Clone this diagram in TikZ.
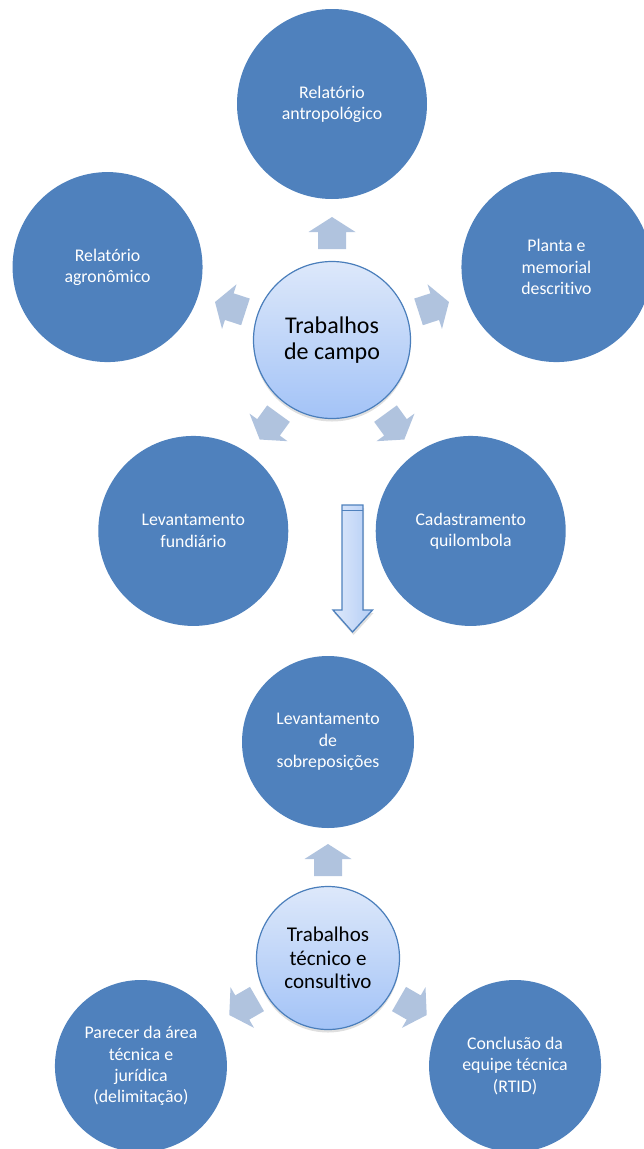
\documentclass[tikz,border=0pt]{standalone}
\usepackage{fontspec}
\setmainfont{Carlito}[Ligatures={NoCommon,NoRequired,NoContextual}]
\usetikzlibrary{calc,shadows}
\definecolor{satblue}{RGB}{79,129,189}
\definecolor{arrowfill}{RGB}{176,195,222}
\definecolor{hubborder}{RGB}{74,126,187}
\definecolor{hubtop}{RGB}{221,232,250}
\definecolor{hubbot}{RGB}{163,195,247}
\definecolor{bigl}{RGB}{222,233,251}
\definecolor{bigr}{RGB}{180,205,245}
\tikzset{
  sat/.style={circle, fill=satblue, draw=none, text=white, align=center,
    font=\fontsize{17.8}{21.3}\selectfont, inner sep=0pt},
  hub/.style={circle, draw=hubborder, line width=1.2pt, top color=hubtop, bottom color=hubbot,
    align=center, text=black, inner sep=0pt,
    drop shadow={opacity=0.25, shadow xshift=0pt, shadow yshift=-3pt}},
  blockarrow/.style={fill=arrowfill, draw=none},
}
\newcommand{\blkarrow}[2]{% position, direction angle
  \fill[blockarrow, shift={#1}, rotate=#2-90]
    (-14pt,-16pt) -- (-14pt,1pt) -- (-23.5pt,1pt) -- (0pt,16pt) -- (23.5pt,1pt) -- (14pt,1pt) -- (14pt,-16pt) -- cycle;}
\begin{document}
\begin{tikzpicture}[x=1pt,y=-1pt]
\useasboundingbox (0,0) rectangle (643,1149);
% ---------- upper group ----------
\coordinate (c1) at (332,340);
\node[sat, minimum size=190pt] (antrop) at ($(c1)+(90:236pt)$) {Relatório\\antropológico};
\node[sat, minimum size=190pt] (agron) at ($(c1)+(162:236pt)$) {Relatório\\agronômico};
\node[sat, minimum size=190pt] (planta) at ($(c1)+(18:236pt)$) {Planta e\\memorial\\descritivo};
\node[sat, minimum size=190pt] (fund) at ($(c1)+(234:236pt)$) {Levantamento\\fundiário};
\node[sat, minimum size=190pt] (cad) at ($(c1)+(306:236pt)$) {Cadastramento\\quilombola};
\foreach \a in {90,162,18,234,306}{
  \blkarrow{($(c1)+(\a:107pt)$)}{\a}
}
\node[hub, minimum size=157pt, font=\fontsize{24}{26}\selectfont] (campo) at (c1) {Trabalhos\\de campo};
% ---------- big down arrow ----------
\coordinate (bigtop) at (352.5,505);
\coordinate (bigtip) at (352.5,632);
\fill[black, opacity=0.12] ($(bigtop)+(-9.5,3)$) -- ++(0,105) -- ++(-9,0) -- ($(bigtip)+(1,3)$) -- ++(20,-22) -- ++(-9.5,0) -- ++(0,-105) -- cycle;
\draw[draw=satblue, line width=1.3pt, left color=bigl, right color=bigr, line join=miter]
  ($(bigtop)+(-10.5,0)$) -- ++(0,105) -- ++(-9,0) -- (bigtip) -- ++(20,-22) -- ++(-9.5,0) -- ++(0,-105) -- cycle;
\draw[satblue, line width=0.9pt] ($(bigtop)+(-10.5,5)$) -- ++(21,0);
% ---------- lower group ----------
\coordinate (c2) at (328,958);
\node[sat, minimum size=172pt] (sobre) at ($(c2)+(90:216pt)$) {Levantamento\\de\\sobreposições};
\node[sat, minimum size=172pt] (parecer) at ($(c2)+(210:216pt)$) {Parecer da área\\técnica e\\jurídica\\(delimitação)};
\node[sat, minimum size=172pt] (conc) at ($(c2)+(330:216pt)$) {Conclusão da\\equipe técnica\\(RTID)};
\foreach \a in {90,210,330}{
  \blkarrow{($(c2)+(\a:98pt)$)}{\a}
}
\node[hub, minimum size=143pt, font=\fontsize{21}{23.5}\selectfont] (tecnico) at (c2) {Trabalhos\\técnico e\\consultivo};
\end{tikzpicture}
\end{document}
